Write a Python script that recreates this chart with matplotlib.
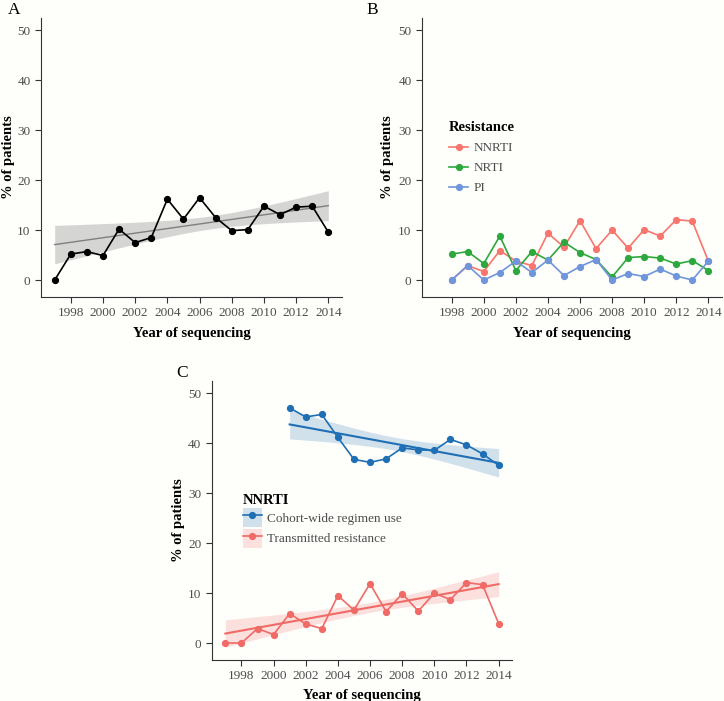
import numpy as np
import matplotlib
matplotlib.use("Agg")
import matplotlib.pyplot as plt
from matplotlib.lines import Line2D
from matplotlib.patches import Patch
from matplotlib.legend_handler import HandlerTuple

# ---------------- data ----------------
years_a = [1997, 1998, 1999, 2000, 2001, 2002, 2003, 2004, 2005, 2006,
           2007, 2008, 2009, 2010, 2011, 2012, 2013, 2014]
any_resistance = [0, 5.2, 5.7, 4.9, 10.2, 7.5, 8.5, 16.2, 12.2, 16.5,
                  12.5, 9.9, 10.1, 14.8, 13.1, 14.6, 14.8, 9.6]
# fitted trend: value at first/last year, CI half-widths at ends, min half-width
fit_a_ends = [7.1, 14.9]
ci_a_ends = [3.85, 3.0]
ci_a_min = 1.3

years_b = [1998, 1999, 2000, 2001, 2002, 2003, 2004, 2005, 2006,
           2007, 2008, 2009, 2010, 2011, 2012, 2013, 2014]
nnrti_b = [0, 2.9, 1.7, 5.9, 3.8, 2.9, 9.4, 6.6, 11.9, 6.3, 10.0, 6.4, 10.1, 8.8, 12.1, 11.8, 3.8]
nrti_b = [5.2, 5.7, 3.3, 8.8, 1.9, 5.7, 4.0, 7.6, 5.5, 4.1, 0.6, 4.5, 4.7, 4.4, 3.2, 3.9, 1.9]
pi_b = [0, 2.9, 0, 1.5, 3.8, 1.5, 4.0, 0.9, 2.7, 4.1, 0, 1.3, 0.7, 2.2, 0.8, 0, 3.8]

years_c_use = [2001, 2002, 2003, 2004, 2005, 2006, 2007, 2008, 2009, 2010,
               2011, 2012, 2013, 2014]
regimen_use = [47.1, 45.3, 45.8, 41.2, 36.8, 36.2, 36.9, 39.1, 38.7, 38.6,
               40.8, 39.7, 37.9, 35.6]
fit_use_ends = [43.8, 36.1]
ci_use_ends = [2.9, 2.85]
ci_use_min = 1.3

years_c_tr = years_a
transmitted = [0, 0, 2.9, 1.7, 5.9, 3.8, 2.9, 9.5, 6.6, 11.9, 6.3, 9.9, 6.4, 10.0,
               8.7, 12.1, 11.7, 3.9]
fit_tr_ends = [1.9, 11.8]
ci_tr_ends = [2.75, 2.5]
ci_tr_min = 1.0

xticks = [1998, 2000, 2002, 2004, 2006, 2008, 2010, 2012, 2014]
yticks = [0, 10, 20, 30, 40, 50]

# ---------------- style ----------------
W, H = 724, 701
BG = "#fefefb"
plt.rcParams["font.family"] = ["Liberation Serif", "DejaVu Serif"]
plt.rcParams["axes.linewidth"] = 0.8

fig = plt.figure(figsize=(W / 100, H / 100), dpi=100, facecolor=BG)


def px_axes(l, t, r, b, ylab_x):
    ax = fig.add_axes([l / W, 1 - b / H, (r - l) / W, (b - t) / H])
    ax.set_facecolor(BG)
    for s in ["top", "right"]:
        ax.spines[s].set_visible(False)
    for s in ["left", "bottom"]:
        ax.spines[s].set_color("#333333")
    ax.set_xlim(1996.15, 2014.85)
    ax.set_ylim(-3.4, 52.5)
    ax.set_xticks(xticks)
    ax.set_yticks(yticks)
    ax.tick_params(length=4, width=0.8, color="#333333", labelcolor="#4d4d4d",
                   labelsize=9.5, pad=3.5)
    ax.set_xlabel("Year of sequencing", fontsize=10.5, fontweight="bold")
    ax.set_ylabel("% of patients", fontsize=10.5, fontweight="bold")
    ax.xaxis.set_label_coords(0.5, -(333 - 297) / 279)
    ax.xaxis.label.set_verticalalignment("center")
    ax.yaxis.set_label_coords((ylab_x - l) / (r - l), 0.5)
    ax.yaxis.label.set_verticalalignment("center")
    return ax


def band(ax, x0, x1, ends, ci_ends, ci_min, color, alpha, lw):
    xs = np.linspace(x0, x1, 100)
    line = ends[0] + (ends[1] - ends[0]) * (xs - x0) / (x1 - x0)
    d1 = ci_ends[0] ** 2 - ci_min ** 2
    d2 = ci_ends[1] ** 2 - ci_min ** 2
    ratio = np.sqrt(d1 / d2)
    xc = (x0 + ratio * x1) / (1 + ratio)
    k = d1 / (xc - x0) ** 2
    hw = np.sqrt(ci_min ** 2 + k * (xs - xc) ** 2)
    ax.fill_between(xs, line - hw, line + hw, color=color[0], alpha=alpha, lw=0)
    ax.plot(xs, line, color=color[1], lw=lw)


# ---------------- Panel A ----------------
axA = px_axes(41, 18, 342, 297, 8.5)
band(axA, years_a[0], years_a[-1], fit_a_ends, ci_a_ends, ci_a_min,
     ("#999999", "#7f7f7f"), 0.4, 1.0)
axA.plot(years_a, any_resistance, color="black", lw=1.2, marker="o", ms=4.2)
fig.text(8 / W, 1 - 10 / H, "A", fontsize=12.5, va="center", ha="left")

# ---------------- Panel B ----------------
axB = px_axes(422, 18, 722, 297, 387.5)
c_nnrti, c_nrti, c_pi = "#F8766D", "#2DA83C", "#6F95DC"
axB.plot(years_b, nnrti_b, color=c_nnrti, lw=1.2, marker="o", ms=4.2, label="NNRTI")
axB.plot(years_b, nrti_b, color=c_nrti, lw=1.2, marker="o", ms=4.2, label="NRTI")
axB.plot(years_b, pi_b, color=c_pi, lw=1.2, marker="o", ms=4.2, label="PI")
fig.text(366 / W, 1 - 10 / H, "B", fontsize=12.5, va="center", ha="left")
legB = axB.legend(loc="upper left", bbox_to_anchor=(449 / W, 1 - 121 / H),
                  bbox_transform=fig.transFigure, frameon=False, title="Resistance",
                  title_fontproperties={"weight": "bold", "size": 10.5},
                  fontsize=9.5, handlelength=1.45, handletextpad=0.4,
                  labelspacing=0.6, borderpad=0, borderaxespad=0, alignment="left")
for t in legB.get_texts():
    t.set_color("#4d4d4d")

# ---------------- Panel C ----------------
axC = px_axes(211.7, 381, 512.3, 660, 178.5)
c_use, c_tr = "#1F6FB4", "#F06A66"
band(axC, years_c_use[0], years_c_use[-1], fit_use_ends, ci_use_ends, ci_use_min,
     (c_use, c_use), 0.2, 1.5)
band(axC, years_c_tr[0], years_c_tr[-1], fit_tr_ends, ci_tr_ends, ci_tr_min,
     (c_tr, c_tr), 0.2, 1.5)
axC.plot(years_c_use, regimen_use, color=c_use, lw=1.2, marker="o", ms=4.2)
axC.plot(years_c_tr, transmitted, color=c_tr, lw=1.2, marker="o", ms=4.2)
fig.text(176 / W, 1 - 373 / H, "C", fontsize=12.5, va="center", ha="left")

h_use = (Patch(facecolor=c_use, alpha=0.2, lw=0),
         Line2D([], [], color=c_use, lw=1.2, marker="o", ms=4.2))
h_tr = (Patch(facecolor=c_tr, alpha=0.2, lw=0),
        Line2D([], [], color=c_tr, lw=1.2, marker="o", ms=4.2))
legC = axC.legend([h_use, h_tr], ["Cohort-wide regimen use", "Transmitted resistance"],
                  handler_map={tuple: HandlerTuple(ndivide=1, pad=0)},
                  loc="upper left", bbox_to_anchor=(242.5 / W, 1 - 494 / H),
                  bbox_transform=fig.transFigure, frameon=False, title="NNRTI",
                  title_fontproperties={"weight": "bold", "size": 10.5},
                  fontsize=9.5, handlelength=1.44, handleheight=1.84, handletextpad=0.4,
                  labelspacing=0.1, borderpad=0, borderaxespad=0, alignment="left")
for t in legC.get_texts():
    t.set_color("#4d4d4d")

fig.savefig("out.png", dpi=100, facecolor=BG)
